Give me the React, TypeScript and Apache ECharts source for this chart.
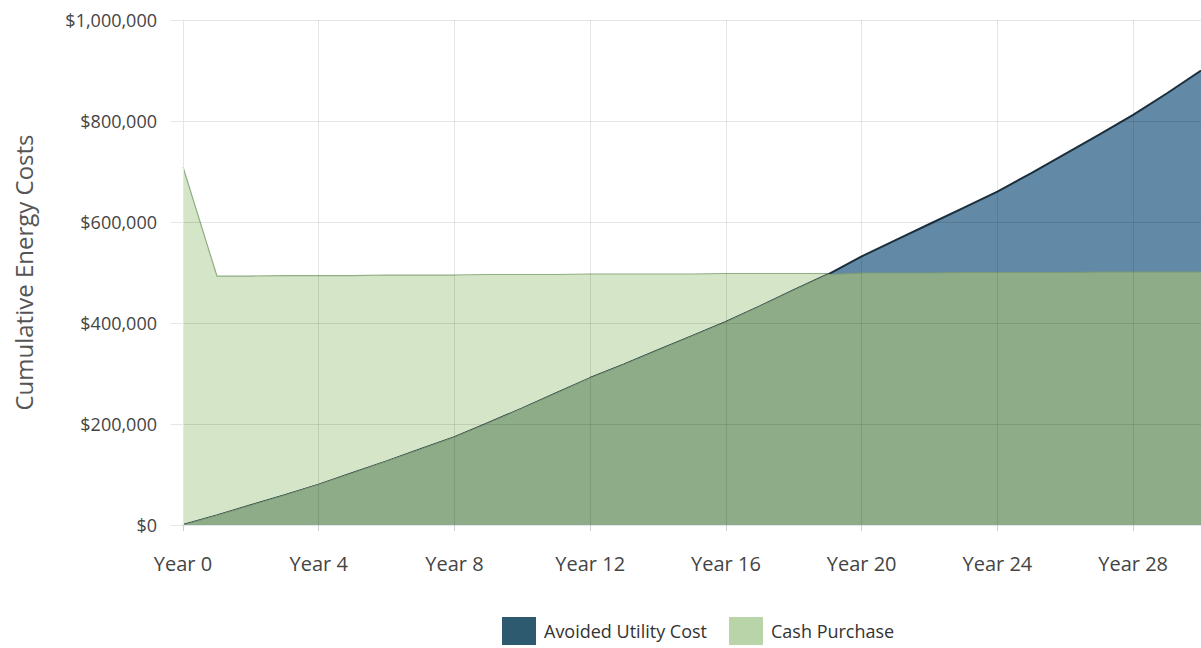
import React, { useEffect, useRef } from "react";
import * as echarts from "echarts";

const years = [0,1,2,3,4,5,6,7,8,9,10,11,12,13,14,15,16,17,18,19,20,21,22,23,24,25,26,27,28,29,30];
const avoidedUtilityCost = [0,19000,39000,59000,80000,103000,126000,150000,174000,202000,231000,261000,291000,318000,346000,374000,402000,433000,465000,496000,532000,564000,596000,628000,660000,697000,735000,773000,812000,855000,900000];
const cashPurchase = [709000,493000,493000,494000,494000,494000,495000,495000,495000,496000,496000,496000,497000,497000,497000,497000,498000,498000,498000,498000,499000,499000,499000,500000,500000,500000,500000,501000,501000,501000,501000];
const yTicks = [0, 200000, 400000, 600000, 800000, 1000000];

const FONT = "'Open Sans', 'Noto Sans', sans-serif";

export default function App() {
  const ref = useRef<HTMLDivElement>(null);
  useEffect(() => {
    document.body.style.margin = "0";
    if (!ref.current) return;
    const chart = echarts.init(ref.current, undefined, { renderer: "svg" });
    const avoidedData = years.map((y, i) => [y, avoidedUtilityCost[i]]);
    const cashData = years.map((y, i) => [y, cashPurchase[i]]);
    const overlapData = years.map((y, i) => [y, Math.min(avoidedUtilityCost[i], cashPurchase[i])]);
    chart.setOption({
      animation: false,
      textStyle: { fontFamily: FONT },
      grid: { left: 183, right: -4, top: 20, bottom: 123, containLabel: false },
      legend: {
        bottom: -2,
        left: 497,
        itemWidth: 34,
        itemHeight: 28,
        itemGap: 22,
        icon: "rect",
        data: ["Avoided Utility Cost", "Cash Purchase"],
        textStyle: { fontSize: 18, color: "#333", fontFamily: FONT, padding: [0, 0, 0, 3] },
      },
      xAxis: {
        type: "value",
        min: 0,
        max: 30,
        interval: 4,
        z: 5,
        axisLine: { show: true, lineStyle: { color: "#dde4ea", width: 1 } },
        axisTick: { show: true, length: 6, lineStyle: { color: "#c8cfd6" } },
        axisLabel: {
          margin: 28,
          fontSize: 20,
          color: "#444",
          fontFamily: FONT,
          showMaxLabel: false,
          formatter: (v: number) => (v % 4 === 0 && v < 30 ? "Year " + v : ""),
        },
        splitLine: { show: true, lineStyle: { color: "rgba(0,0,0,0.1)", width: 1 } },
      },
      yAxis: {
        type: "value",
        min: yTicks[0],
        max: yTicks[yTicks.length - 1],
        interval: 200000,
        z: 5,
        name: "Cumulative Energy Costs",
        nameLocation: "middle",
        nameGap: 148,
        nameTextStyle: { fontSize: 24, color: "#555", fontFamily: FONT },
        axisLine: { show: true, lineStyle: { color: "#e3e6ea" } },
        axisTick: { show: true, length: 12, lineStyle: { color: "#e3e6ea" } },
        axisLabel: {
          margin: 26,
          fontSize: 18,
          color: "#444",
          fontFamily: FONT,
          formatter: (v: number) => "$" + v.toLocaleString("en-US"),
        },
        splitLine: { show: true, lineStyle: { color: "rgba(0,0,0,0.1)", width: 1 } },
      },
      series: [
        {
          name: "Cash Purchase",
          type: "line",
          data: cashData,
          symbol: "none",
          z: 1,
          itemStyle: { color: "#b8d4a8" },
          lineStyle: { color: "#8fae82", width: 1.2 },
          areaStyle: { color: "#d4e5c8", opacity: 1 },
        },
        {
          name: "Avoided Utility Cost",
          type: "line",
          data: avoidedData,
          symbol: "none",
          z: 2,
          itemStyle: { color: "#2e5a70" },
          lineStyle: { color: "#1b2e3b", width: 2 },
          areaStyle: { color: "#628aa6", opacity: 1 },
        },
        {
          name: "Overlap",
          type: "line",
          data: overlapData,
          symbol: "none",
          z: 3,
          itemStyle: { color: "#8fac89" },
          lineStyle: { color: "#7b9a74", width: 1 },
          areaStyle: { color: "#8fac89", opacity: 1 },
        },
      ],
    });
    return () => chart.dispose();
  }, []);
  return <div ref={ref} style={{ width: 1201, height: 648 }} />;
}
